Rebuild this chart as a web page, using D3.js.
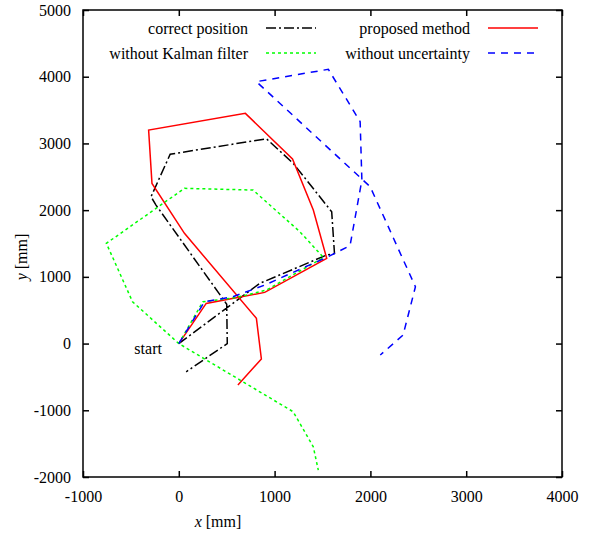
<!DOCTYPE html>
<html>
<head>
<meta charset="utf-8">
<script src="https://cdn.jsdelivr.net/npm/d3@7"></script>
<style>
  body { margin: 0; background: #fff; }
  svg text { font-family: "Liberation Serif", "DejaVu Serif", serif; font-size: 16px; fill: #000; }
</style>
</head>
<body>
<svg id="chart" width="592" height="536"></svg>
<script>
// trajectories in mm, [x, y]
var correctPos = [[0,0],[845,902],[1544,1327],[1625,1350],[1596,1976],[1194,2702],[915,3070],[-90,2838],[-290,2201],[-238,2076],[500,590],[506,0],[77,-423]];
var proposed = [[0,0],[286,602],[897,767],[1544,1277],[1404,2001],[1187,2766],[695,3451],[-315,3201],[-280,2401],[59,1652],[810,378],[862,-230],[617,-622]];
var noKalman = [[0,0],[251,627],[600,690],[915,802],[1510,1290],[1264,1676],[775,2301],[59,2327],[-756,1502],[-483,627],[0,0],[1194,-1022],[1404,-1547],[1456,-1897]];
var noUncert = [[0,0],[268,627],[565,702],[897,877],[1570,1310],[1788,1470],[1911,2451],[1893,3326],[1561,4111],[810,3926],[1998,2351],[2470,851],[2341,127],[2103,-172]];

var xTicks = [-1000, 0, 1000, 2000, 3000, 4000];
var yTicks = [-2000, -1000, 0, 1000, 2000, 3000, 4000, 5000];

var series = [
  {name: "correct position", data: correctPos, color: "#000", dash: "10,3,2,3"},
  {name: "proposed method", data: proposed, color: "#ff0000", dash: null},
  {name: "without Kalman filter", data: noKalman, color: "#00ff00", dash: "3,3"},
  {name: "without uncertainty", data: noUncert, color: "#0000ff", dash: "7,6"}
];

var svg = d3.select("#chart");
var pL = 83, pR = 562, pT = 10, pB = 477;

var x = d3.scaleLinear().domain([-1000, 4000]).range([pL, pR]);
var y = d3.scaleLinear().domain([-2000, 5000]).range([pB, pT]);
var fmt = function(d){return String(d);};

// inward ticks on all four sides
svg.append("g").attr("transform", "translate(0," + pB + ")")
  .call(d3.axisBottom(x).tickValues(xTicks).tickSize(-6).tickPadding(14).tickFormat(fmt));
svg.append("g").attr("transform", "translate(0," + pT + ")")
  .call(d3.axisTop(x).tickValues(xTicks).tickSize(-6).tickFormat(""));
svg.append("g").attr("transform", "translate(" + pL + ",0)")
  .call(d3.axisLeft(y).tickValues(yTicks).tickSize(-6).tickPadding(12).tickFormat(fmt));
svg.append("g").attr("transform", "translate(" + pR + ",0)")
  .call(d3.axisRight(y).tickValues(yTicks).tickSize(-6).tickFormat(""));

svg.selectAll(".domain").remove();
svg.selectAll(".tick line").attr("stroke", "#000").attr("stroke-width", 1.5);
svg.selectAll(".tick text").style("font-family", "Liberation Serif").style("font-size", "16px");

svg.append("rect")
  .attr("x", pL).attr("y", pT)
  .attr("width", pR - pL).attr("height", pB - pT)
  .attr("fill", "none").attr("stroke", "#000").attr("stroke-width", 1.5);

var line = d3.line().x(function(d){return x(d[0]);}).y(function(d){return y(d[1]);});

svg.selectAll("path.traj")
  .data(series)
  .enter().append("path")
  .attr("class", "traj")
  .attr("d", function(d){return line(d.data);})
  .attr("fill", "none")
  .attr("stroke", function(d){return d.color;})
  .attr("stroke-width", 1.5)
  .attr("stroke-dasharray", function(d){return d.dash;});

// legend, two columns
var legPos = [[248, 28], [470, 28], [248, 53], [470, 53]];
var leg = svg.selectAll("g.leg")
  .data(series)
  .enter().append("g")
  .attr("class", "leg")
  .attr("transform", function(d, i){return "translate(" + legPos[i][0] + "," + legPos[i][1] + ")";});
leg.append("text")
  .attr("text-anchor", "end")
  .attr("dy", "0.35em")
  .text(function(d){return d.name;});
leg.append("line")
  .attr("x1", 18).attr("x2", 68)
  .attr("stroke", function(d){return d.color;})
  .attr("stroke-width", 1.5)
  .attr("stroke-dasharray", function(d){return d.dash;});

svg.append("text")
  .attr("x", x(-320)).attr("y", y(-160))
  .attr("text-anchor", "middle")
  .text("start");

var xl = svg.append("text").attr("x", 218).attr("y", 527).attr("text-anchor", "middle");
xl.append("tspan").style("font-style", "italic").text("x");
xl.append("tspan").text(" [mm]");

var yl = svg.append("text")
  .attr("transform", "translate(27,257) rotate(-90)")
  .attr("text-anchor", "middle");
yl.append("tspan").style("font-style", "italic").text("y");
yl.append("tspan").text(" [mm]");
</script>
</body>
</html>
